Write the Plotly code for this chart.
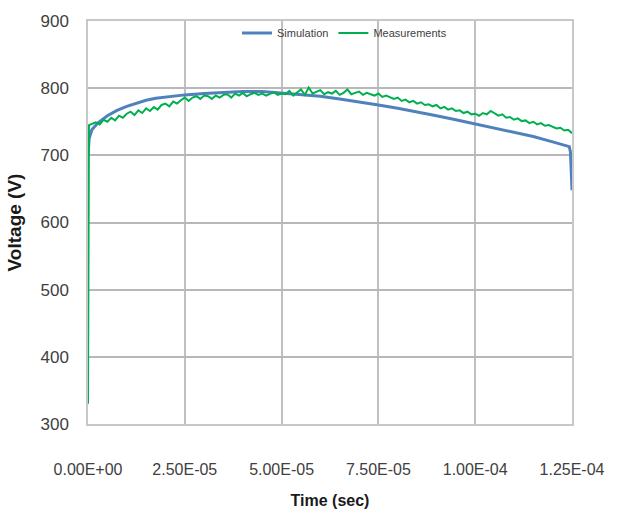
import plotly.graph_objects as go

# Simulation (time in microseconds, voltage in V)
sim_t_us = [0, 0.3, 1, 2.5, 5, 7.5, 10, 12.5, 15, 17.5, 20, 25, 30, 35, 40, 45, 50, 55, 60,
            65, 70, 75, 80, 85, 90, 95, 100, 105, 110, 115, 120, 124.3, 124.6, 125]
sim_v = [700, 725, 738, 748, 759, 767, 773, 778, 782, 785, 787, 790, 792, 794, 795, 795, 793,
         791, 788, 784, 780, 775, 770, 765, 759, 753, 747, 741, 735, 728, 720, 713, 705, 648]

meas_t_us = [0, 0.25] + list(range(2, 126))
meas_v = [330, 745,
          749, 746, 753, 750, 756, 752, 759, 756, 762,
          765, 760, 767, 763, 770, 766, 772, 768, 775, 777,
          773, 780, 777, 782, 786, 781, 786, 788, 784, 789,
          788, 784, 789, 786, 790, 791, 786, 792, 789, 793,
          788, 791, 793, 790, 792, 789, 791, 794, 790, 792,
          791, 796, 789, 793, 798, 790, 801, 792, 795, 797,
          791, 794, 792, 796, 790, 793, 798, 791, 793, 795,
          790, 793, 791, 789, 792, 787, 789, 786, 784, 786,
          781, 783, 779, 781, 777, 779, 775, 776, 773, 775,
          770, 772, 768, 770, 766, 767, 763, 765, 761, 762,
          759, 763, 761, 766, 762, 759, 761, 756, 757, 753,
          755, 751, 752, 748, 750, 746, 748, 744, 745, 742,
          740, 741, 737, 738, 733]

x_tickvals = [0, 2.5e-5, 5e-5, 7.5e-5, 1e-4, 1.25e-4]
x_ticktext = ["0.00E+00", "2.50E-05", "5.00E-05", "7.50E-05", "1.00E-04", "1.25E-04"]
y_tickvals = [300, 400, 500, 600, 700, 800, 900]

FONT = "Liberation Sans, Arial, sans-serif"

fig = go.Figure()
fig.add_trace(go.Scatter(x=[t * 1e-6 for t in sim_t_us], y=sim_v, mode="lines",
                         name="Simulation", line=dict(color="#4f81bd", width=3)))
fig.add_trace(go.Scatter(x=[t * 1e-6 for t in meas_t_us], y=meas_v, mode="lines",
                         name="Measurements", line=dict(color="#00b050", width=2)))

fig.update_layout(
    width=618, height=520,
    margin=dict(l=88, r=46, t=19, b=96),
    paper_bgcolor="white", plot_bgcolor="white",
    font=dict(family=FONT, color="#404040", size=16),
    legend=dict(orientation="h", x=0.53, y=0.97, xanchor="center", yanchor="middle",
                font=dict(size=11, color="#404040"), bgcolor="rgba(0,0,0,0)",
                tracegroupgap=0),
    showlegend=True,
)
fig.update_xaxes(range=[0, 1.25e-4], tickvals=x_tickvals, ticktext=x_ticktext,
                 showgrid=True, gridcolor="#c0c0c0", gridwidth=1.5,
                 showline=True, linecolor="#c8c8c8", linewidth=1.5, mirror=True,
                 zeroline=False, ticks="", ticklabelstandoff=30,
                 tickfont=dict(size=16),
                 title=dict(text="<b>Time (sec)</b>", font=dict(size=16, color="#1a1a1a"), standoff=18))
fig.update_yaxes(range=[300, 900], tickvals=y_tickvals,
                 showgrid=True, gridcolor="#b8b8b8", gridwidth=1.5,
                 showline=True, linecolor="#c8c8c8", linewidth=1.5, mirror=True,
                 zeroline=False, ticks="", ticklabelstandoff=14,
                 tickfont=dict(size=17),
                 title=dict(text="<b>Voltage (V)</b>", font=dict(size=19, color="#1a1a1a"), standoff=14))

fig.write_html("out.html")
